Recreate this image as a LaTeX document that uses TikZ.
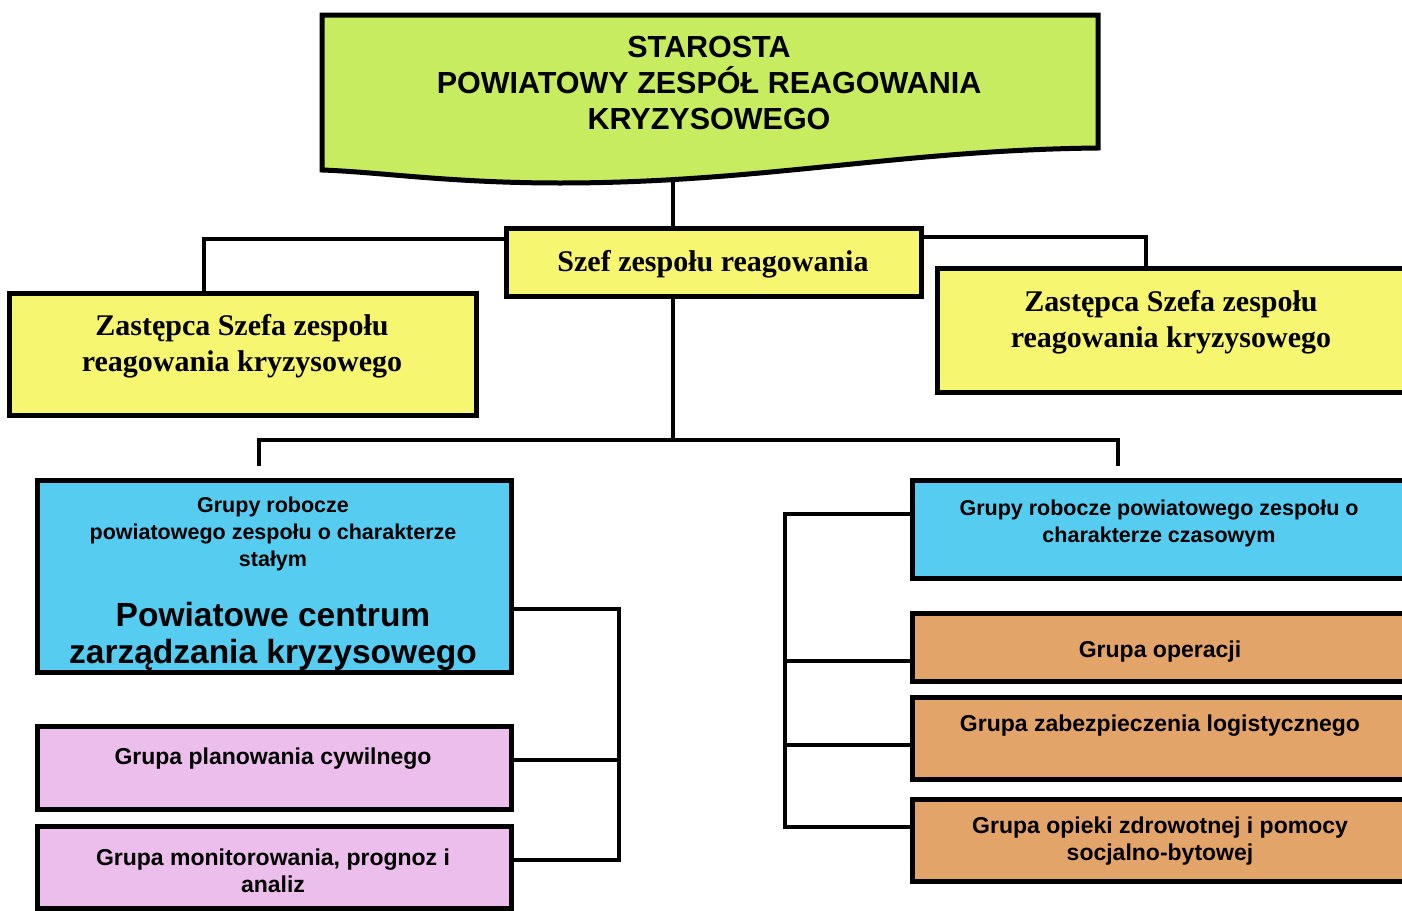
\documentclass[tikz,border=0pt]{standalone}
\usepackage{fontspec}
\setmainfont{Liberation Sans}
\newfontfamily\timesfont{Liberation Serif}
\definecolor{titlegreen}{RGB}{200,236,96}
\definecolor{depyellow}{RGB}{246,246,112}
\definecolor{grpblue}{RGB}{86,204,240}
\definecolor{grppink}{RGB}{236,190,236}
\definecolor{grporange}{RGB}{226,164,104}
\begin{document}
\begin{tikzpicture}[x=1pt,y=-1pt,
  box/.style={draw=black,line width=5pt,inner sep=0pt,outer sep=0pt,rectangle},
  conn/.style={draw=black,line width=4.5pt,line join=miter,line cap=butt},
  sanstxt/.style={font=\fontsize{23}{27}\selectfont\bfseries,align=center,inner sep=0pt},
  smalltxt/.style={font=\fontsize{21.5}{27}\selectfont\bfseries,align=center,inner sep=0pt},
  bigtxt/.style={font=\fontsize{33.5}{37}\selectfont\bfseries,align=center,inner sep=0pt},
  sertxt/.style={font=\timesfont\fontsize{30}{36}\selectfont\bfseries,align=center,inner sep=0pt},
  titletxt/.style={font=\fontsize{30.5}{36}\selectfont\bfseries,align=center,inner sep=0pt}]
\clip (0,0) rectangle (1402,910);
\fill[white] (0,0) rectangle (1402,910);

% coordinates for connector junctions
\coordinate (titlebot) at (673,181);
\coordinate (kL) at (204,239);
\coordinate (kR) at (1146,237);
\coordinate (bus) at (673,440);
\coordinate (busL) at (259,440);
\coordinate (busR) at (1118,440);
\coordinate (tL) at (259,466);
\coordinate (tR) at (1118,466);
\coordinate (bl1) at (619,609);
\coordinate (bl2) at (619,760);
\coordinate (bl3) at (619,860);
\coordinate (br1) at (785,514);
\coordinate (br2) at (785,661);
\coordinate (br3) at (785,745);
\coordinate (br4) at (785,827);

% boxes (positions)
\node[box,fill=depyellow,minimum width=415pt,minimum height=68pt] (szef) at (713.5,262) {};
\node[box,fill=depyellow,minimum width=467pt,minimum height=122pt] (zl) at (242.5,354) {};
\node[box,fill=depyellow,minimum width=483pt,minimum height=124pt] (zr) at (1178.5,330) {};
\node[box,fill=grpblue,draw=none,minimum width=474pt,minimum height=192pt] (pc) at (274,576.5) {};
\node[box,fill=grpblue,minimum width=508pt,minimum height=98pt] (rb) at (1166,529) {};
\node[box,fill=grporange,minimum width=508pt,minimum height=68pt] (op) at (1166,647) {};
\node[box,fill=grporange,minimum width=508pt,minimum height=82pt] (lg) at (1166,738) {};
\node[box,fill=grporange,minimum width=508pt,minimum height=82pt] (oz) at (1166,840) {};
\node[box,fill=grppink,minimum width=474pt,minimum height=83pt] (pp) at (274,767.5) {};
\node[box,fill=grppink,minimum width=474pt,minimum height=82pt] (pm) at (274,867) {};

% connectors
\draw[conn] (titlebot) -- (szef.north -| titlebot);
\draw[conn] (szef.west |- kL) -- (kL) -- (kL |- zl.north);
\draw[conn] (szef.east |- kR) -- (kR) -- (kR |- zr.north);
\draw[conn] (szef.south -| bus) -- (bus);
\draw[conn] (tL) -- (busL) -- (busR) -- (tR);
\draw[conn] (pc.east |- bl1) -- (bl1) -- (bl3) -- (pm.east |- bl3);
\draw[conn] (bl2) -- (pp.east |- bl2);
\draw[conn] (rb.west |- br1) -- (br1) -- (br4) -- (oz.west |- br4);
\draw[conn] (br2) -- (op.west |- br2);
\draw[conn] (br3) -- (lg.west |- br3);

% redraw boxes over connector ends
\foreach \b in {szef,zl,zr,rb,op,lg,oz,pp,pm}{
  \draw[line width=5pt] (\b.south west) rectangle (\b.north east);
}

% title shape
\draw[line width=5pt,fill=titlegreen,line join=miter] (322,15) -- (1098,15) -- (1098,148)
  .. controls (900,150) and (760,183) .. (560,183)
  .. controls (450,183) and (380,172) .. (322,170) -- cycle;
\node[titletxt] (title) at (709,83) {STAROSTA\\POWIATOWY ZESPÓŁ REAGOWANIA\\KRYZYSOWEGO};

% texts
\node[sertxt] (tszef) at (713,264) {Szef zespołu reagowania};
\node[sertxt] (tzl) at (242,346) {Zastępca Szefa zespołu\\reagowania kryzysowego};
\node[sertxt] (tzr) at (1171,322) {Zastępca Szefa zespołu\\reagowania kryzysowego};

\begin{scope}
  \clip (pc.south west) rectangle (pc.north east);
  \node[smalltxt] (tpc1) at (273,534) {Grupy robocze\\powiatowego zespołu o charakterze\\stałym};
  \node[bigtxt] (tpc2) at (273,636.5) {Powiatowe centrum\\zarządzania kryzysowego};
\end{scope}
\draw[line width=5pt] (pc.south west) rectangle (pc.north east);

\node[smalltxt] (trb) at (1159,523) {Grupy robocze powiatowego zespołu o\\charakterze czasowym};
\node[sanstxt] (top) at (1160,652) {Grupa operacji};
\node[sanstxt] (tlg) at (1160,726) {Grupa zabezpieczenia logistycznego};
\node[sanstxt] (toz) at (1160,841) {Grupa opieki zdrowotnej i pomocy\\socjalno-bytowej};
\node[sanstxt] (tpp) at (273,759) {Grupa planowania cywilnego};
\node[sanstxt] (tpm) at (273,871) {Grupa monitorowania, prognoz i\\analiz};
\end{tikzpicture}
\end{document}
